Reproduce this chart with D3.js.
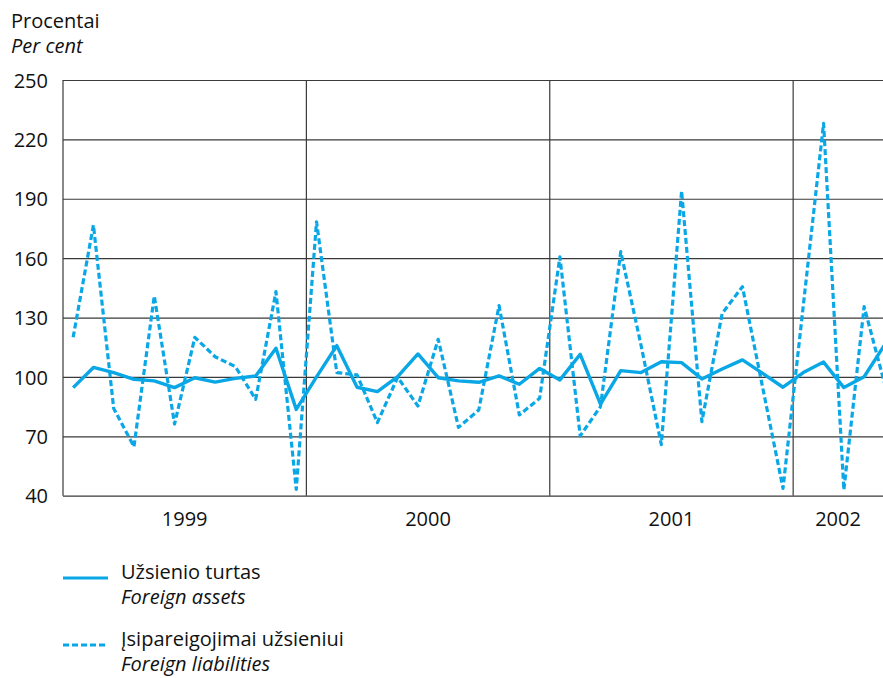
<!DOCTYPE html>
<html>
<head>
<meta charset="utf-8">
<script src="https://cdn.jsdelivr.net/npm/d3@7/dist/d3.min.js"></script>
<style>
  html, body { margin: 0; padding: 0; background: #fff; }
  svg { display: block; }
  text { font-family: "Open Sans", "Noto Sans", sans-serif; fill: #111; }
</style>
</head>
<body>
<svg id="chart" width="883" height="678"></svg>
<script>
// ---- data ----
const years = ["1999", "2000", "2001", "2002"];
const yTicks = [40, 70, 100, 130, 160, 190, 220, 250];
// monthly values, Jan 1999 .. May 2002
const assets = [94.6, 104.8, 102.2, 98.8, 98.0, 94.6, 99.6, 97.4, 99.3, 100.5, 114.5, 83.6,
  100, 115.8, 94.8, 92.6, 100.1, 111.6, 99.6, 98.0, 97.3, 100.5, 96.3, 104.3,
  98.5, 111.4, 86.3, 103.2, 102.2, 107.7, 107.2, 99, 104, 108.6, 101.8, 94.8,
  102.2, 107.5, 94.6, 100.1, 116];
const liabilities = [120, 176.7, 84.1, 64.8, 140.9, 76.2, 120, 110.2, 105.2, 88.7, 143.1, 43.2,
  178.4, 102.2, 101, 76.9, 99.8, 85.3, 119, 74.5, 83.3, 136, 80.8, 89.2,
  160.7, 70.2, 85, 163.3, 116, 65.8, 193.9, 77.4, 132.1, 145.6, 94.5, 43.7,
  136, 228.1, 42.9, 135.5, 97];
const seriesNames = [
  ["Užsienio turtas", "Foreign assets"],
  ["Įsipareigojimai užsieniui", "Foreign liabilities"]
];
const axisTitle = ["Procentai", "Per cent"];

(function () {
// ---- layout ----
const pLeft = 63, pRight = 883, pTop = 80, pBottom = 495.7;
const monthsShown = 40.43;
const color = "#0aa7e6";
const gridColor = "#3a3a3a";
const fs = 20;

const svg = d3.select("#chart");
const x = d3.scaleLinear().domain([0, monthsShown]).range([pLeft, pRight]);
const y = d3.scaleLinear().domain([40, 250]).range([pBottom, pTop]);

// axis title
svg.append("text").attr("x", 11).attr("y", 28).attr("font-size", fs).text(axisTitle[0]);
svg.append("text").attr("x", 11).attr("y", 53).attr("font-size", fs)
  .attr("font-style", "italic").text(axisTitle[1]);

// horizontal gridlines + y labels via axis
const yAxis = d3.axisLeft(y).tickValues(yTicks).tickSize(-(pRight - pLeft)).tickPadding(15);
const gy = svg.append("g").attr("transform", `translate(${pLeft},0)`).call(yAxis);
gy.select(".domain").remove();
gy.selectAll(".tick line").attr("stroke", gridColor).attr("stroke-width", 1.2);
gy.selectAll(".tick text").attr("font-size", fs).attr("fill", "#111")
  .attr("font-family", '"Open Sans", sans-serif').attr("dy", "0.36em");

// left border
svg.append("line").attr("x1", pLeft).attr("x2", pLeft).attr("y1", pTop).attr("y2", pBottom)
  .attr("stroke", gridColor).attr("stroke-width", 1.2);

// vertical year separators
const yearStarts = years.map((d, i) => i * 12);
svg.append("g").selectAll("line").data(yearStarts.slice(1)).join("line")
  .attr("x1", d => x(d)).attr("x2", d => x(d))
  .attr("y1", pTop).attr("y2", pBottom)
  .attr("stroke", gridColor).attr("stroke-width", 1.2);

// year labels
svg.append("g").selectAll("text").data(years).join("text")
  .attr("x", (d, i) => (x(i * 12) + x(Math.min(i * 12 + 12, monthsShown))) / 2)
  .attr("y", 526)
  .attr("text-anchor", "middle")
  .attr("font-size", fs)
  .text(d => d);

// lines
svg.append("clipPath").attr("id", "plotclip").append("rect")
  .attr("x", pLeft).attr("y", 0).attr("width", pRight - pLeft).attr("height", 678);

const line = d3.line().x((d, i) => x(i + 0.5)).y(d => y(d));
const g = svg.append("g").attr("clip-path", "url(#plotclip)");
g.append("path").datum(liabilities).attr("d", line)
  .attr("fill", "none").attr("stroke", color).attr("stroke-width", 3.2)
  .attr("stroke-dasharray", "6,3").attr("stroke-linejoin", "round");
g.append("path").datum(assets).attr("d", line)
  .attr("fill", "none").attr("stroke", color).attr("stroke-width", 3.4)
  .attr("stroke-linejoin", "round");

// legend
const legendY = [578, 645];
const lg = svg.append("g");
seriesNames.forEach((names, i) => {
  lg.append("line").attr("x1", 63).attr("x2", 108).attr("y1", legendY[i]).attr("y2", legendY[i])
    .attr("stroke", color).attr("stroke-width", 3.2)
    .attr("stroke-dasharray", i === 1 ? "6,3" : null);
  lg.append("text").attr("x", 121).attr("y", legendY[i] + 1).attr("font-size", fs).text(names[0]);
  lg.append("text").attr("x", 121).attr("y", legendY[i] + 26).attr("font-size", fs)
    .attr("font-style", "italic").text(names[1]);
});
})();
</script>
</body>
</html>
